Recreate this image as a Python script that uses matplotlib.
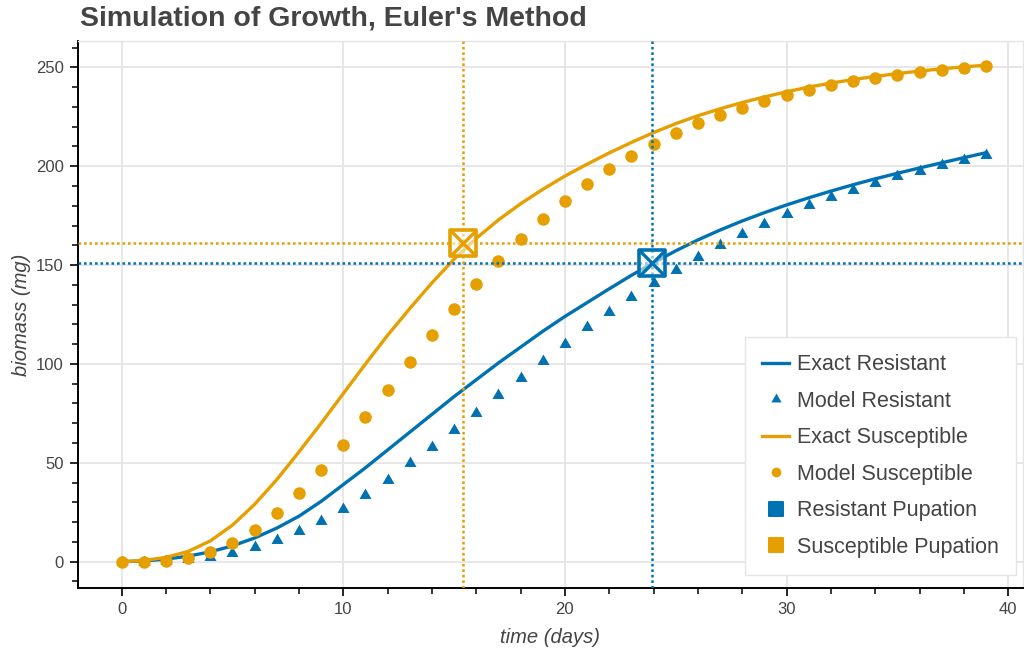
import matplotlib
matplotlib.use("Agg")
import matplotlib.pyplot as plt
from matplotlib.lines import Line2D
from matplotlib.markers import MarkerStyle
from matplotlib.path import Path
from matplotlib.ticker import MultipleLocator

plt.rcParams['font.family'] = ['Liberation Sans', 'DejaVu Sans']

# ---- data -------------------------------------------------------------
days = list(range(40))

exact_resistant = [0, 0.4, 1.3, 2.8, 5.0, 8.0, 12.0, 17.0, 23.0, 30.5,
                   39.0, 47.5, 56.5, 65.5, 74.5, 83.5, 92.0, 100.5, 108.5, 116.5,
                   124.0, 131.0, 138.0, 144.8, 151.2, 157.2, 162.7, 167.7, 172.3, 176.5,
                   180.4, 184.0, 187.4, 190.6, 193.6, 196.4, 199.1, 201.7, 204.3, 206.8]

model_resistant = [0, 0.1, 0.4, 1.2, 2.4, 4.3, 7.2, 10.9, 15.5, 20.7,
                   26.7, 33.7, 41.3, 49.7, 58.2, 66.7, 75.4, 84.2, 93.0, 101.7,
                   110.2, 118.5, 126.4, 134.0, 141.0, 147.7, 154.1, 160.2, 165.8, 170.9,
                   175.9, 180.3, 184.3, 188.1, 191.6, 194.9, 197.8, 200.5, 203.0, 205.5]

exact_susceptible = [0, 0.6, 2.2, 5.2, 10.5, 18.5, 29.0, 41.5, 55.5, 70.0,
                     85.0, 100.0, 114.5, 128.0, 141.0, 153.0, 163.5, 172.8, 181.0, 188.3,
                     195.0, 201.0, 206.7, 212.0, 217.0, 221.5, 225.5, 229.0, 232.2, 235.0,
                     237.6, 240.0, 242.0, 243.8, 245.4, 246.8, 248.1, 249.2, 250.2, 251.1]

model_susceptible = [0, 0.1, 0.5, 2.0, 5.1, 9.6, 16.2, 24.5, 34.6, 46.3,
                     59.2, 73.0, 87.0, 101.0, 114.7, 128.0, 140.4, 152.3, 163.3, 173.4,
                     182.6, 191.1, 198.5, 205.4, 211.4, 216.7, 221.7, 225.9, 229.6, 233.0,
                     236.0, 238.5, 240.9, 242.9, 244.6, 246.2, 247.5, 248.6, 249.6, 250.5]

resistant_pupation_day = 23.91
resistant_pupation_mass = 151.0
susceptible_pupation_day = 15.41
susceptible_pupation_mass = 161.3

# ---- style ------------------------------------------------------------
BLUE = '#0072B2'
ORANGE = '#E69F00'
TEXT = '#444444'
GRID = '#e5e5e5'

W, H = 1024, 653
fig = plt.figure(figsize=(W / 100, H / 100), dpi=100)
left, right, top, bottom = 78, 1023, 41, 588
ax = fig.add_axes([left / W, 1 - bottom / H, (right - left) / W, (bottom - top) / H])

ax.set_xlim(-1.97, 40.67)
ax.set_ylim(-13.3, 263.3)

# equilateral triangle centred on its centroid
tri_path = Path([(-1, -0.57735), (1, -0.57735), (0, 1.1547), (-1, -0.57735)],
                [Path.MOVETO, Path.LINETO, Path.LINETO, Path.CLOSEPOLY])
tri_marker = MarkerStyle(tri_path)

ax.plot(days, exact_resistant, color=BLUE, lw=2.4, solid_capstyle='butt', zorder=3)
ax.plot(days, model_resistant, ls='none', marker=tri_marker, ms=10, color=BLUE,
        mew=0, zorder=3)
ax.plot(days, exact_susceptible, color=ORANGE, lw=2.4, solid_capstyle='butt', zorder=3)
ax.plot(days, model_susceptible, ls='none', marker='o', ms=9, color=ORANGE,
        mew=0, zorder=3)

dots = (0, (1.05, 1.15))
for day, mass, col in [(resistant_pupation_day, resistant_pupation_mass, BLUE),
                       (susceptible_pupation_day, susceptible_pupation_mass, ORANGE)]:
    ax.axvline(day, color=col, lw=1.8, ls=dots, zorder=4)
    ax.axhline(mass, color=col, lw=1.8, ls=dots, zorder=4)
    ax.plot([day], [mass], ls='none', marker=MarkerStyle('s', joinstyle='round'), ms=19,
            mfc=(1, 1, 1, 0.55), mec=col, mew=2.6, zorder=6)
    ax.plot([day], [mass], ls='none', marker='x', ms=19, mec=col, mew=2.4, zorder=7)

# ---- axes -------------------------------------------------------------
ax.xaxis.set_major_locator(MultipleLocator(10))
ax.xaxis.set_minor_locator(MultipleLocator(2))
ax.yaxis.set_major_locator(MultipleLocator(50))
ax.yaxis.set_minor_locator(MultipleLocator(10))
ax.grid(True, which='major', color=GRID, lw=1.3, zorder=0)
ax.set_axisbelow(True)

for side in ['top', 'right']:
    ax.spines[side].set_color(GRID)
    ax.spines[side].set_linewidth(1.0)
for side in ['left', 'bottom']:
    ax.spines[side].set_color('black')
    ax.spines[side].set_linewidth(1.4)

ax.tick_params(which='major', direction='out', length=5.8, width=1.2, color='black',
               labelsize=12, labelcolor=TEXT, pad=4.5)
ax.tick_params(which='minor', direction='out', length=4.2, width=1.1, color='black')

ax.set_xlabel('time (days)', fontsize=14.5, style='italic', color=TEXT)
ax.set_ylabel('biomass (mg)', fontsize=14.5, style='italic', color=TEXT)
ax.xaxis.set_label_coords(0.5, (bottom - 628) / (bottom - top))
ax.yaxis.set_label_coords((31 - left) / (right - left), 0.5)

fig.text(left / W + 0.002, 1 - 19 / H, "Simulation of Growth, Euler's Method",
         fontsize=20.5, fontweight='bold', color=TEXT, ha='left', va='center')

# ---- legend -----------------------------------------------------------
sq = MarkerStyle('s', joinstyle='round')
handles = [
    Line2D([], [], color=BLUE, lw=2.4),
    Line2D([], [], ls='none', marker=tri_marker, ms=8.5, color=BLUE, mew=0),
    Line2D([], [], color=ORANGE, lw=2.4),
    Line2D([], [], ls='none', marker='o', ms=7, color=ORANGE, mew=0),
    Line2D([], [], ls='none', marker=sq, ms=9.5, color=BLUE, mew=1.5),
    Line2D([], [], ls='none', marker=sq, ms=9.5, color=ORANGE, mew=1.5),
]
labels = ['Exact Resistant', 'Model Resistant', 'Exact Susceptible',
          'Model Susceptible', 'Resistant Pupation', 'Susceptible Pupation']
leg = ax.legend(handles, labels, loc='lower right',
                bbox_to_anchor=(1016 / W, 1 - 575 / H), bbox_transform=fig.transFigure,
                borderaxespad=0, fontsize=15.5, labelspacing=0.72, handlelength=1.25,
                handletextpad=0.35, borderpad=0.8, fancybox=False, framealpha=1,
                edgecolor=GRID, facecolor='white', labelcolor=TEXT)
leg.get_frame().set_linewidth(1.0)
leg.set_zorder(10)

fig.savefig('out.png', dpi=100)
